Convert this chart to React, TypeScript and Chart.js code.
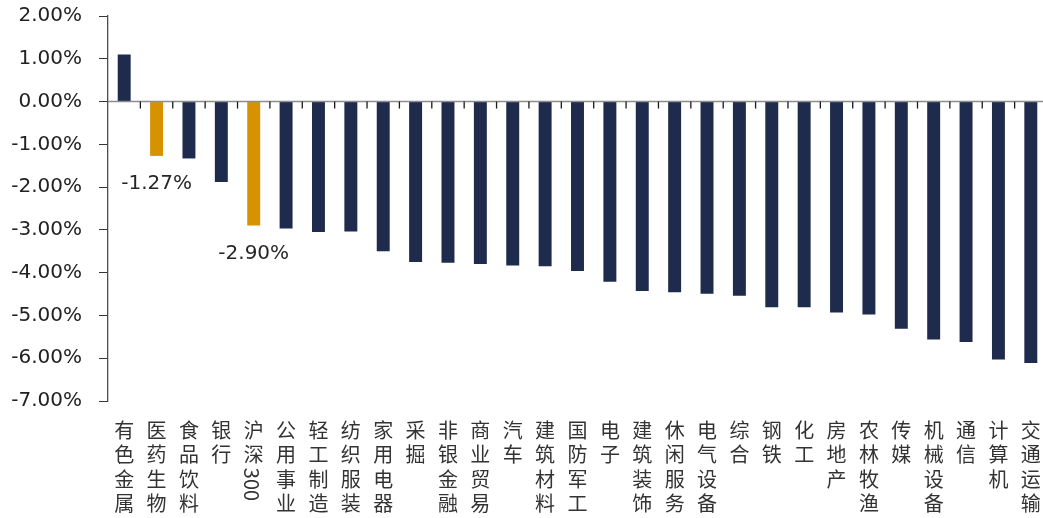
import React, { useEffect, useRef } from 'react';
import { Chart, registerables } from 'chart.js';

Chart.register(...registerables);

const categories = [
  '有色金属', '医药生物', '食品饮料', '银行', '沪深300', '公用事业', '轻工制造', '纺织服装',
  '家用电器', '采掘', '非银金融', '商业贸易', '汽车', '建筑材料', '国防军工', '电子',
  '建筑装饰', '休闲服务', '电气设备', '综合', '钢铁', '化工', '房地产', '农林牧渔',
  '传媒', '机械设备', '通信', '计算机', '交通运输',
];

const values = [
  1.10, -1.27, -1.33, -1.88, -2.90, -2.97, -3.05, -3.04,
  -3.50, -3.75, -3.77, -3.80, -3.83, -3.85, -3.96, -4.21,
  -4.43, -4.46, -4.49, -4.54, -4.81, -4.81, -4.93, -4.98,
  -5.31, -5.56, -5.62, -6.03, -6.11,
];

const highlighted = ['医药生物', '沪深300'];

const yMin = -7;
const yMax = 2;
const yStep = 1;

const NAVY = '#1F2B4D';
const ORANGE = '#D69200';
const CJK_FONT = '"Noto Sans CJK SC", sans-serif';
const NUM_FONT = '"DejaVu Sans", sans-serif';
const LABEL_SIZE = 20;
const LINE_H = 24.4;
const LABEL_PAD = 17;

function splitLabel(label: string) {
  const m = label.match(/^([^0-9A-Za-z]*)([0-9A-Za-z]*)$/);
  const head = m ? m[1] : label;
  const tail = m ? m[2] : '';
  return { chars: Array.from(head), rotated: tail };
}

const overlayPlugin = {
  id: 'overlay',
  afterDatasetsDraw(chart: any) {
    const ctx = chart.ctx;
    const xs = chart.scales.x;
    const ys = chart.scales.y;
    const area = chart.chartArea;
    const y0 = ys.getPixelForValue(0);
    ctx.save();
    // zero line
    ctx.strokeStyle = '#8c8c8c';
    ctx.lineWidth = 1.5;
    ctx.beginPath();
    ctx.moveTo(area.left, y0);
    ctx.lineTo(area.right, y0);
    ctx.stroke();
    // category boundary ticks
    ctx.strokeStyle = '#1a1a1a';
    ctx.lineWidth = 1.3;
    for (let i = 0; i < categories.length - 1; i++) {
      const bx = (xs.getPixelForTick(i) + xs.getPixelForTick(i + 1)) / 2;
      ctx.beginPath();
      ctx.moveTo(bx, y0);
      ctx.lineTo(bx, y0 + 7);
      ctx.stroke();
    }
    // value labels for highlighted bars
    const meta = chart.getDatasetMeta(0);
    ctx.font = `${LABEL_SIZE}px ${NUM_FONT}`;
    ctx.fillStyle = '#262626';
    ctx.textAlign = 'center';
    ctx.textBaseline = 'middle';
    categories.forEach((c, i) => {
      if (!highlighted.includes(c)) return;
      const el = meta.data[i];
      ctx.fillText(values[i].toFixed(2) + '%', el.x, el.y + 28);
    });
    ctx.restore();
  },
  afterDraw(chart: any) {
    const ctx = chart.ctx;
    const xs = chart.scales.x;
    ctx.save();
    ctx.font = `${LABEL_SIZE}px ${CJK_FONT}`;
    ctx.fillStyle = '#333333';
    categories.forEach((c, i) => {
      const { chars, rotated } = splitLabel(c);
      if (!rotated) return;
      const px = xs.getPixelForTick(i) - 2;
      const py = xs.top + LABEL_PAD + chars.length * LINE_H + 1;
      ctx.save();
      ctx.translate(px, py);
      ctx.rotate(Math.PI / 2);
      ctx.textAlign = 'left';
      ctx.textBaseline = 'middle';
      ctx.fillText(rotated, 0, 0);
      ctx.restore();
    });
    ctx.restore();
  },
};

export default function App() {
  const canvasRef = useRef<HTMLCanvasElement | null>(null);

  useEffect(() => {
    document.body.style.margin = '0';
    document.body.style.overflow = 'hidden';
    const canvas = canvasRef.current;
    if (!canvas) return;
    const chart = new Chart(canvas, {
      type: 'bar',
      data: {
        labels: categories,
        datasets: [
          {
            data: values,
            backgroundColor: categories.map((c) => (highlighted.includes(c) ? ORANGE : NAVY)),
            barPercentage: 0.4,
            categoryPercentage: 1,
          },
        ],
      },
      options: {
        animation: false,
        responsive: true,
        maintainAspectRatio: false,
        layout: { autoPadding: false, padding: { top: 16, right: 0, bottom: 0, left: 0 } },
        plugins: {
          legend: { display: false },
          tooltip: { enabled: false },
        },
        scales: {
          x: {
            border: { display: false },
            grid: { display: false, drawTicks: false },
            ticks: {
              autoSkip: false,
              maxRotation: 0,
              minRotation: 0,
              padding: LABEL_PAD,
              color: '#333333',
              font: { family: CJK_FONT, size: LABEL_SIZE, lineHeight: LINE_H / LABEL_SIZE },
              callback: (_v: any, i: number) => splitLabel(categories[i]).chars,
            },
            afterFit: (scale: any) => {
              scale.height = 117;
              scale.paddingLeft = 0;
              scale.paddingRight = 0;
            },
          },
          y: {
            min: yMin,
            max: yMax,
            border: { display: true, color: '#4d4d4d', width: 1.3 },
            grid: {
              drawOnChartArea: false,
              drawTicks: true,
              tickLength: 9,
              tickColor: '#333333',
            },
            ticks: {
              stepSize: yStep,
              padding: 17,
              color: '#222222',
              font: { family: NUM_FONT, size: LABEL_SIZE },
              callback: (v: any) => Number(v).toFixed(2) + '%',
            },
            afterFit: (scale: any) => {
              scale.width = 108;
              scale.paddingTop = 0;
              scale.paddingBottom = 0;
            },
          },
        },
      },
      plugins: [overlayPlugin],
    });
    return () => chart.destroy();
  }, []);

  return (
    <div style={{ width: 1043, height: 518, overflow: 'hidden', position: 'relative' }}>
      <div style={{ width: 1047, height: 518, position: 'relative' }}>
        <canvas ref={canvasRef} />
      </div>
    </div>
  );
}
